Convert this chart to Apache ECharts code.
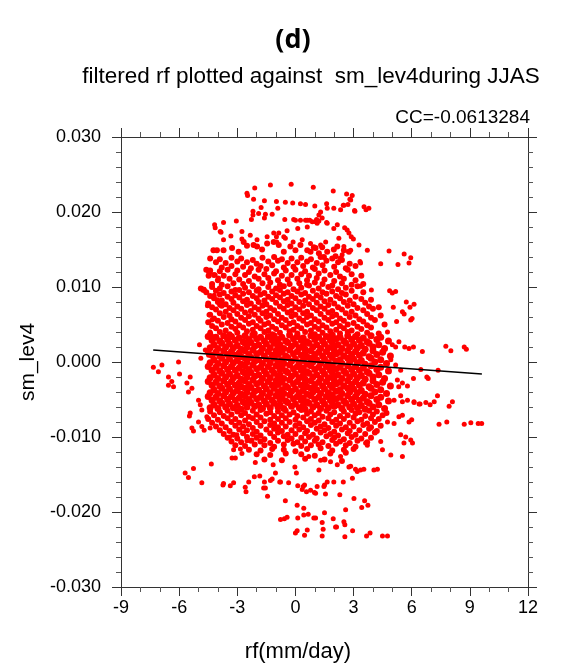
<!DOCTYPE html>
<html><head><meta charset="utf-8">
<script src="https://cdn.jsdelivr.net/npm/echarts@6/dist/echarts.min.js"></script>
<style>html,body{margin:0;padding:0;background:#fff}#c{width:562px;height:667px}</style>
</head><body><div id="c"></div>
<script>
// regression line end points (rf, sm_lev4)
const fitRf = [-7.34, 9.62];
const fitSm = [0.0016, -0.0016];

// sparse points above the cloud
const topPoints = [[-1.29,0.0236],[-0.22,0.0237],[0.92,0.0233],[1.95,0.0228],[-2.10,0.0232],[-2.50,0.0225],[-2.47,0.0222],[2.64,0.0224],[2.93,0.0222],[2.85,0.0216],[-2.16,0.0217],[-1.60,0.0215],[-0.98,0.0214],[-0.52,0.0213],[-0.14,0.0212],[0.26,0.0211],[0.52,0.0210],[1.00,0.0208],[1.61,0.0211],[1.64,0.0205],[1.98,0.0205],[2.47,0.0209],[2.71,0.0210],[3.07,0.0201],[3.54,0.0207],[3.79,0.0205],[3.64,0.0203],[-1.77,0.0206],[-2.19,0.0201],[-1.90,0.0198],[-1.55,0.0197],[-1.20,0.0197],[-0.91,0.0205],[-2.27,0.0190],[-2.19,0.0196],[-1.60,0.0192],[-0.55,0.0190],[-0.09,0.0190],[0.00,0.0189],[0.26,0.0189],[0.52,0.0189],[0.74,0.0189],[1.04,0.0187],[1.21,0.0188],[1.38,0.0192],[1.64,0.0185],[2.16,0.0183],[2.54,0.0179],[2.67,0.0176],[2.76,0.0172],[2.88,0.0167],[2.99,0.0164],[-4.17,0.0183],[-4.14,0.0179],[-3.71,0.0186],[-3.05,0.0188],[-3.84,0.0173],[-3.33,0.0168],[-2.76,0.0164],[-0.86,0.0172],[-0.98,0.0167],[-0.43,0.0175],[0.12,0.0178],[0.61,0.0180],[-0.52,0.0165],[2.33,0.0203],[2.50,0.0209],[2.81,0.0217],[3.05,0.0202],[1.30,0.0200],[1.21,0.0196],[0.61,0.0189],[0.87,0.0187],[1.09,0.0190],[1.12,0.0185],[1.61,0.0186],[-3.88,0.0174],[-3.71,0.0163],[-2.76,0.0174],[-2.33,0.0169],[-1.98,0.0163],[-1.46,0.0167],[-1.12,0.0172],[-0.96,0.0160],[-0.60,0.0167],[-0.12,0.0160],[0.35,0.0163],[0.78,0.0158],[0.98,0.0152],[1.30,0.0156],[1.56,0.0160],[1.98,0.0178],[2.24,0.0165],[2.85,0.0149],[3.28,0.0156],[2.50,0.0154]];

// band just above the dense cloud
const upperBand = [[-3.71,0.0149],[-3.27,0.0152],[-2.93,0.0147],[-2.67,0.0160],[-2.50,0.0155],[-2.16,0.0156],[-1.98,0.0154],[-1.72,0.0150],[-1.46,0.0158],[-1.12,0.0160],[-0.86,0.0156],[-0.60,0.0147],[-0.26,0.0154],[0.00,0.0149],[0.26,0.0156],[0.61,0.0149],[0.95,0.0153],[1.21,0.0145],[1.47,0.0140],[1.64,0.0147],[0.78,0.0147],[1.04,0.0152],[1.38,0.0153],[1.98,0.0150],[2.16,0.0154],[2.50,0.0149],[2.76,0.0147],[2.07,0.0141],[2.33,0.0138],[-4.23,0.0149],[-4.05,0.0149],[-4.60,0.0123],[-4.43,0.0120],[-4.48,0.0115],[-4.88,0.0098],[-4.74,0.0096],
[-4.4,0.0138],[-3.9,0.0137],[-3.3,0.0139],[-2.8,0.0138],[-2.2,0.0136],[-1.7,0.0139],[-1.1,0.0140],[-0.7,0.0137],[-0.2,0.0138],[0.3,0.0139],[0.8,0.0137],[1.3,0.0140],[1.9,0.0138],[2.4,0.0136],
[-4.1,0.0133],[-3.6,0.0132],[-3.0,0.0134],[-2.5,0.0133],[-2.0,0.0131],[-1.4,0.0134],[-0.9,0.0135],[-0.4,0.0132],[0.1,0.0133],[0.6,0.0134],[1.1,0.0132],[1.6,0.0135],[2.2,0.0133],[2.8,0.0131],
[-3.8,0.0126],[-3.3,0.0128],[-2.7,0.0127],[-2.3,0.0125],[-1.8,0.0128],[-1.2,0.0129],[-0.6,0.0126],[-0.1,0.0127],[0.4,0.0128],[0.9,0.0126],[1.4,0.0129],[2.0,0.0127],[2.6,0.0125],[3.1,0.0128],
[-4.4,0.0122],[-3.9,0.0121],[-3.5,0.0123],[-3.0,0.0122],[-2.4,0.0120],[-1.9,0.0123],[-1.5,0.0124],[-1.0,0.0121],[-0.5,0.0122],[0.0,0.0123],[0.5,0.0121],[1.0,0.0124],[1.5,0.0122],[2.1,0.0120],[2.7,0.0123],
[-4.2,0.0116],[-3.7,0.0115],[-3.1,0.0117],[-2.6,0.0116],[-2.1,0.0114],[-1.6,0.0117],[-1.1,0.0118],[-0.7,0.0115],[-0.2,0.0116],[0.3,0.0117],[0.7,0.0115],[1.2,0.0118],[1.8,0.0116],[2.3,0.0114],[2.9,0.0117],[3.4,0.0115],
[-4.0,0.0109],[-3.4,0.0111],[-2.9,0.0110],[-2.4,0.0108],[-1.9,0.0111],[-1.4,0.0112],[-0.9,0.0109],[-0.4,0.0110],[0.1,0.0111],[0.6,0.0109],[1.1,0.0112],[1.5,0.0110],[2.0,0.0108],[2.5,0.0111],[3.1,0.0109],
[-4.3,0.0104],[-3.8,0.0103],[-3.2,0.0105],[-2.7,0.0104],[-2.2,0.0102],[-1.7,0.0105],[-1.3,0.0106],[-0.8,0.0103],[-0.3,0.0104],[0.2,0.0105],[0.6,0.0103],[1.0,0.0106],[1.4,0.0104],[1.9,0.0102],[2.4,0.0105],[2.9,0.0103],[3.5,0.0104]];

// upper half of the dense cloud
const upperCloud = [
[-4.3,0.0100],[-3.9,0.0098],[-3.5,0.0101],[-3.1,0.0096],[-2.6,0.0099],[-2.2,0.0101],[-1.9,0.0097],[-1.4,0.0100],[-1.0,0.0098],[-0.6,0.0101],[-0.1,0.0097],[0.3,0.0099],[0.7,0.0102],[1.2,0.0098],[1.7,0.0100],[2.2,0.0097],[2.6,0.0099],[3.2,0.0101],
[-4.6,0.0093],[-4.1,0.0095],[-3.7,0.0092],[-3.3,0.0094],[-2.9,0.0096],[-2.4,0.0093],[-2.0,0.0095],[-1.6,0.0092],[-1.2,0.0094],[-0.8,0.0096],[-0.4,0.0093],[0.1,0.0094],[0.5,0.0092],[0.9,0.0095],[1.4,0.0093],[1.9,0.0094],[2.4,0.0092],[2.9,0.0095],[3.5,0.0093],
[-4.4,0.0088],[-3.9,0.0090],[-3.5,0.0087],[-3.1,0.0089],[-2.7,0.0091],[-2.2,0.0088],[-1.8,0.0090],[-1.4,0.0087],[-1.0,0.0089],[-0.6,0.0091],[-0.2,0.0088],[0.3,0.0090],[0.7,0.0087],[1.1,0.0089],[1.6,0.0091],[2.1,0.0088],[2.6,0.0090],[3.1,0.0087],
[-4.2,0.0085],[-3.8,0.0082],[-3.3,0.0084],[-2.9,0.0086],[-2.5,0.0083],[-2.0,0.0085],[-1.6,0.0082],[-1.2,0.0084],[-0.8,0.0086],[-0.4,0.0083],[0.0,0.0085],[0.5,0.0082],[0.9,0.0084],[1.3,0.0086],[1.8,0.0083],[2.3,0.0085],[2.8,0.0082],[3.4,0.0084],[3.9,0.0083],
[-4.5,0.0078],[-4.0,0.0080],[-3.6,0.0077],[-3.2,0.0079],[-2.7,0.0081],[-2.3,0.0078],[-1.9,0.0080],[-1.5,0.0077],[-1.0,0.0079],[-0.6,0.0081],[-0.2,0.0078],[0.2,0.0080],[0.7,0.0077],[1.1,0.0079],[1.5,0.0081],[2.0,0.0078],[2.5,0.0080],[3.0,0.0077],[3.6,0.0079],
[-4.3,0.0073],[-3.8,0.0075],[-3.4,0.0072],[-3.0,0.0074],[-2.5,0.0076],[-2.1,0.0073],[-1.7,0.0075],[-1.3,0.0072],[-0.8,0.0074],[-0.4,0.0076],[0.0,0.0073],[0.4,0.0075],[0.9,0.0072],[1.3,0.0074],[1.7,0.0076],[2.2,0.0073],[2.7,0.0075],[3.2,0.0072],[3.8,0.0074],[4.3,0.0073],
[-4.1,0.0070],[-3.6,0.0067],[-3.2,0.0069],[-2.8,0.0071],[-2.3,0.0068],[-1.9,0.0070],[-1.5,0.0067],[-1.1,0.0069],[-0.6,0.0071],[-0.2,0.0068],[0.2,0.0070],[0.6,0.0067],[1.1,0.0069],[1.5,0.0071],[1.9,0.0068],[2.4,0.0070],[2.9,0.0067],[3.5,0.0069],[4.0,0.0071],
[-4.4,0.0063],[-3.9,0.0065],[-3.4,0.0062],[-3.0,0.0064],[-2.6,0.0066],[-2.1,0.0063],[-1.7,0.0065],[-1.3,0.0062],[-0.9,0.0064],[-0.4,0.0066],[0.0,0.0063],[0.4,0.0065],[0.8,0.0062],[1.3,0.0064],[1.7,0.0066],[2.1,0.0063],[2.6,0.0065],[3.1,0.0062],[3.7,0.0064],[4.4,0.0062],
[-4.2,0.0058],[-3.7,0.0060],[-3.3,0.0057],[-2.8,0.0059],[-2.4,0.0061],[-1.9,0.0058],[-1.5,0.0060],[-1.1,0.0057],[-0.7,0.0059],[-0.2,0.0061],[0.2,0.0058],[0.6,0.0060],[1.0,0.0057],[1.5,0.0059],[1.9,0.0061],[2.3,0.0058],[2.8,0.0060],[3.3,0.0057],[3.9,0.0059],
[-4.5,0.0053],[-4.0,0.0055],[-3.5,0.0052],[-3.1,0.0054],[-2.6,0.0056],[-2.2,0.0053],[-1.8,0.0055],[-1.4,0.0052],[-0.9,0.0054],[-0.5,0.0056],[-0.1,0.0053],[0.4,0.0055],[0.8,0.0052],[1.2,0.0054],[1.7,0.0056],[2.1,0.0053],[2.5,0.0055],[3.0,0.0052],[3.5,0.0054],[4.1,0.0056],
[-4.3,0.0048],[-3.8,0.0050],[-3.3,0.0047],[-2.9,0.0049],[-2.4,0.0051],[-2.0,0.0048],[-1.6,0.0050],[-1.2,0.0047],[-0.7,0.0049],[-0.3,0.0051],[0.1,0.0048],[0.6,0.0050],[1.0,0.0047],[1.4,0.0049],[1.9,0.0051],[2.3,0.0048],[2.7,0.0050],[3.2,0.0047],[3.7,0.0049],[4.6,0.0050],
[-4.1,0.0045],[-3.6,0.0042],[-3.1,0.0044],[-2.7,0.0046],[-2.2,0.0043],[-1.8,0.0045],[-1.4,0.0042],[-1.0,0.0044],[-0.5,0.0046],[-0.1,0.0043],[0.3,0.0045],[0.8,0.0042],[1.2,0.0044],[1.6,0.0046],[2.1,0.0043],[2.5,0.0045],[2.9,0.0042],[3.4,0.0044],[3.9,0.0046],
[-4.4,0.0038],[-3.9,0.0040],[-3.4,0.0037],[-3.0,0.0039],[-2.5,0.0041],[-2.1,0.0038],[-1.6,0.0040],[-1.2,0.0037],[-0.8,0.0039],[-0.3,0.0041],[0.1,0.0038],[0.5,0.0040],[1.0,0.0037],[1.4,0.0039],[1.8,0.0041],[2.3,0.0038],[2.7,0.0040],[3.2,0.0037],[3.7,0.0039],[4.3,0.0038]];

// densest part of the cloud
const coreCloud = [
[-4.5,0.0034],[-4.1,0.0033],[-3.7,0.0035],[-3.3,0.0034],[-2.9,0.0032],[-2.6,0.0035],[-2.2,0.0036],[-1.8,0.0033],[-1.4,0.0034],[-1.1,0.0035],[-0.7,0.0033],[-0.3,0.0036],[0.1,0.0034],[0.4,0.0032],[0.8,0.0035],[1.2,0.0033],[1.6,0.0034],[1.9,0.0036],[2.3,0.0033],[2.7,0.0035],[3.1,0.0034],[3.5,0.0032],[3.9,0.0035],[4.4,0.0033],
[-4.3,0.0029],[-3.9,0.0028],[-3.5,0.0030],[-3.1,0.0029],[-2.7,0.0027],[-2.4,0.0030],[-2.0,0.0031],[-1.6,0.0028],[-1.2,0.0029],[-0.9,0.0030],[-0.5,0.0028],[-0.1,0.0031],[0.3,0.0029],[0.6,0.0027],[1.0,0.0030],[1.4,0.0028],[1.8,0.0029],[2.1,0.0031],[2.5,0.0028],[2.9,0.0030],[3.3,0.0029],[3.7,0.0027],[4.2,0.0030],[4.8,0.0028],
[-4.2,0.0023],[-3.8,0.0025],[-3.4,0.0024],[-3.0,0.0022],[-2.6,0.0025],[-2.3,0.0026],[-1.9,0.0023],[-1.5,0.0024],[-1.1,0.0025],[-0.8,0.0023],[-0.4,0.0026],[0.0,0.0024],[0.4,0.0022],[0.7,0.0025],[1.1,0.0023],[1.5,0.0024],[1.9,0.0026],[2.2,0.0023],[2.6,0.0025],[3.0,0.0024],[3.4,0.0022],[3.8,0.0025],[4.3,0.0023],
[-4.4,0.0019],[-4.0,0.0018],[-3.6,0.0020],[-3.2,0.0019],[-2.8,0.0017],[-2.5,0.0020],[-2.1,0.0021],[-1.7,0.0018],[-1.3,0.0019],[-0.9,0.0020],[-0.6,0.0018],[-0.2,0.0021],[0.2,0.0019],[0.5,0.0017],[0.9,0.0020],[1.3,0.0018],[1.7,0.0019],[2.0,0.0021],[2.4,0.0018],[2.8,0.0020],[3.2,0.0019],[3.6,0.0017],[4.0,0.0020],[4.6,0.0018],
[-4.5,0.0014],[-4.1,0.0013],[-3.7,0.0015],[-3.3,0.0014],[-2.9,0.0012],[-2.6,0.0015],[-2.2,0.0016],[-1.8,0.0013],[-1.4,0.0014],[-1.0,0.0015],[-0.7,0.0013],[-0.3,0.0016],[0.1,0.0014],[0.5,0.0012],[0.8,0.0015],[1.2,0.0013],[1.6,0.0014],[2.0,0.0016],[2.3,0.0013],[2.7,0.0015],[3.1,0.0014],[3.5,0.0012],[4.0,0.0015],[4.5,0.0013],
[-4.3,0.0009],[-3.9,0.0008],[-3.5,0.0010],[-3.1,0.0009],[-2.8,0.0007],[-2.4,0.0010],[-2.0,0.0011],[-1.6,0.0008],[-1.2,0.0009],[-0.9,0.0010],[-0.5,0.0008],[-0.1,0.0011],[0.3,0.0009],[0.6,0.0007],[1.0,0.0010],[1.4,0.0008],[1.8,0.0009],[2.1,0.0011],[2.5,0.0008],[2.9,0.0010],[3.3,0.0009],[3.8,0.0007],[4.2,0.0010],[4.9,0.0008],
[-4.2,0.0003],[-3.8,0.0005],[-3.4,0.0004],[-3.0,0.0002],[-2.6,0.0005],[-2.3,0.0006],[-1.9,0.0003],[-1.5,0.0004],[-1.1,0.0005],[-0.7,0.0003],[-0.4,0.0006],[0.0,0.0004],[0.4,0.0002],[0.8,0.0005],[1.1,0.0003],[1.5,0.0004],[1.9,0.0006],[2.3,0.0003],[2.7,0.0005],[3.0,0.0004],[3.4,0.0002],[3.9,0.0005],[4.4,0.0003],
[-4.4,-0.0001],[-4.0,-0.0002],[-3.6,0.0000],[-3.2,-0.0001],[-2.8,-0.0003],[-2.5,0.0000],[-2.1,0.0001],[-1.7,-0.0002],[-1.3,-0.0001],[-0.9,0.0000],[-0.6,-0.0002],[-0.2,0.0001],[0.2,-0.0001],[0.6,-0.0003],[0.9,0.0000],[1.3,-0.0002],[1.7,-0.0001],[2.1,0.0001],[2.4,-0.0002],[2.8,0.0000],[3.2,-0.0001],[3.6,-0.0003],[4.1,0.0000],[4.7,-0.0002],
[-4.5,-0.0006],[-4.1,-0.0007],[-3.7,-0.0005],[-3.3,-0.0006],[-2.9,-0.0008],[-2.6,-0.0005],[-2.2,-0.0004],[-1.8,-0.0007],[-1.4,-0.0006],[-1.0,-0.0005],[-0.7,-0.0007],[-0.3,-0.0004],[0.1,-0.0006],[0.4,-0.0008],[0.8,-0.0005],[1.2,-0.0007],[1.6,-0.0006],[1.9,-0.0004],[2.3,-0.0007],[2.7,-0.0005],[3.1,-0.0006],[3.5,-0.0008],[3.9,-0.0005],[4.4,-0.0007],
[-4.3,-0.0011],[-3.9,-0.0012],[-3.5,-0.0010],[-3.1,-0.0011],[-2.7,-0.0013],[-2.4,-0.0010],[-2.0,-0.0009],[-1.6,-0.0012],[-1.2,-0.0011],[-0.8,-0.0010],[-0.5,-0.0012],[-0.1,-0.0009],[0.3,-0.0011],[0.6,-0.0013],[1.0,-0.0010],[1.4,-0.0012],[1.8,-0.0011],[2.1,-0.0009],[2.5,-0.0012],[2.9,-0.0010],[3.3,-0.0011],[3.7,-0.0013],[4.2,-0.0010],[4.8,-0.0012],
[-4.2,-0.0017],[-3.8,-0.0015],[-3.4,-0.0016],[-3.0,-0.0018],[-2.6,-0.0015],[-2.3,-0.0014],[-1.9,-0.0017],[-1.5,-0.0016],[-1.1,-0.0015],[-0.8,-0.0017],[-0.4,-0.0014],[0.0,-0.0016],[0.4,-0.0018],[0.7,-0.0015],[1.1,-0.0017],[1.5,-0.0016],[1.9,-0.0014],[2.2,-0.0017],[2.6,-0.0015],[3.0,-0.0016],[3.4,-0.0018],[3.8,-0.0015],[4.3,-0.0017],
[-4.4,-0.0021],[-4.0,-0.0022],[-3.6,-0.0020],[-3.2,-0.0021],[-2.8,-0.0023],[-2.5,-0.0020],[-2.1,-0.0019],[-1.7,-0.0022],[-1.3,-0.0021],[-0.9,-0.0020],[-0.6,-0.0022],[-0.2,-0.0019],[0.2,-0.0021],[0.5,-0.0023],[0.9,-0.0020],[1.3,-0.0022],[1.7,-0.0021],[2.0,-0.0019],[2.4,-0.0022],[2.8,-0.0020],[3.2,-0.0021],[3.6,-0.0023],[4.0,-0.0020],[4.6,-0.0022],
[-4.5,-0.0026],[-4.1,-0.0027],[-3.7,-0.0025],[-3.3,-0.0026],[-2.9,-0.0028],[-2.6,-0.0025],[-2.2,-0.0024],[-1.8,-0.0027],[-1.4,-0.0026],[-1.0,-0.0025],[-0.7,-0.0027],[-0.3,-0.0024],[0.1,-0.0026],[0.5,-0.0028],[0.8,-0.0025],[1.2,-0.0027],[1.6,-0.0026],[2.0,-0.0024],[2.3,-0.0027],[2.7,-0.0025],[3.1,-0.0026],[3.5,-0.0028],[4.0,-0.0025],[4.5,-0.0027],
[-4.3,-0.0031],[-3.9,-0.0032],[-3.5,-0.0030],[-3.1,-0.0031],[-2.8,-0.0033],[-2.4,-0.0030],[-2.0,-0.0029],[-1.6,-0.0032],[-1.2,-0.0031],[-0.9,-0.0030],[-0.5,-0.0032],[-0.1,-0.0029],[0.3,-0.0031],[0.6,-0.0033],[1.0,-0.0030],[1.4,-0.0032],[1.8,-0.0031],[2.1,-0.0029],[2.5,-0.0032],[2.9,-0.0030],[3.3,-0.0031],[3.8,-0.0033],[4.2,-0.0030],[4.9,-0.0032],
[-4.2,-0.0037],[-3.8,-0.0035],[-3.4,-0.0036],[-3.0,-0.0038],[-2.6,-0.0035],[-2.3,-0.0034],[-1.9,-0.0037],[-1.5,-0.0036],[-1.1,-0.0035],[-0.7,-0.0037],[-0.4,-0.0034],[0.0,-0.0036],[0.4,-0.0038],[0.8,-0.0035],[1.1,-0.0037],[1.5,-0.0036],[1.9,-0.0034],[2.3,-0.0037],[2.7,-0.0035],[3.0,-0.0036],[3.4,-0.0038],[3.9,-0.0035],[4.4,-0.0037],
[-4.4,-0.0041],[-4.0,-0.0042],[-3.6,-0.0040],[-3.2,-0.0041],[-2.8,-0.0043],[-2.5,-0.0040],[-2.1,-0.0039],[-1.7,-0.0042],[-1.3,-0.0041],[-0.9,-0.0040],[-0.6,-0.0042],[-0.2,-0.0039],[0.2,-0.0041],[0.6,-0.0043],[0.9,-0.0040],[1.3,-0.0042],[1.7,-0.0041],[2.1,-0.0039],[2.4,-0.0042],[2.8,-0.0040],[3.2,-0.0041],[3.6,-0.0043],[4.1,-0.0040],[4.7,-0.0042],
[-4.5,-0.0046],[-4.1,-0.0047],[-3.7,-0.0045],[-3.3,-0.0046],[-2.9,-0.0048],[-2.6,-0.0045],[-2.2,-0.0044],[-1.8,-0.0047],[-1.4,-0.0046],[-1.0,-0.0045],[-0.7,-0.0047],[-0.3,-0.0044],[0.1,-0.0046],[0.4,-0.0048],[0.8,-0.0045],[1.2,-0.0047],[1.6,-0.0046],[1.9,-0.0044],[2.3,-0.0047],[2.7,-0.0045],[3.1,-0.0046],[3.5,-0.0048],[3.9,-0.0045],[4.4,-0.0047],
[-4.3,-0.0051],[-3.9,-0.0052],[-3.5,-0.0050],[-3.1,-0.0051],[-2.7,-0.0053],[-2.4,-0.0050],[-2.0,-0.0049],[-1.6,-0.0052],[-1.2,-0.0051],[-0.8,-0.0050],[-0.5,-0.0052],[-0.1,-0.0049],[0.3,-0.0051],[0.6,-0.0053],[1.0,-0.0050],[1.4,-0.0052],[1.8,-0.0051],[2.1,-0.0049],[2.5,-0.0052],[2.9,-0.0050],[3.3,-0.0051],[3.7,-0.0053],[4.2,-0.0050],[4.8,-0.0052],
[-4.2,-0.0057],[-3.8,-0.0055],[-3.4,-0.0056],[-3.0,-0.0058],[-2.6,-0.0055],[-2.3,-0.0054],[-1.9,-0.0057],[-1.5,-0.0056],[-1.1,-0.0055],[-0.8,-0.0057],[-0.4,-0.0054],[0.0,-0.0056],[0.4,-0.0058],[0.7,-0.0055],[1.1,-0.0057],[1.5,-0.0056],[1.9,-0.0054],[2.2,-0.0057],[2.6,-0.0055],[3.0,-0.0056],[3.4,-0.0058],[3.8,-0.0055],[4.3,-0.0057],
[-4.4,-0.0061],[-4.0,-0.0062],[-3.6,-0.0060],[-3.2,-0.0061],[-2.8,-0.0063],[-2.5,-0.0060],[-2.1,-0.0059],[-1.7,-0.0062],[-1.3,-0.0061],[-0.9,-0.0060],[-0.6,-0.0062],[-0.2,-0.0059],[0.2,-0.0061],[0.5,-0.0063],[0.9,-0.0060],[1.3,-0.0062],[1.7,-0.0061],[2.0,-0.0059],[2.4,-0.0062],[2.8,-0.0060],[3.2,-0.0061],[3.6,-0.0063],[4.0,-0.0060],[4.6,-0.0062]];

// lower half of the cloud
const lowerCloud = [
[-4.4,-0.0066],[-3.9,-0.0067],[-3.5,-0.0065],[-3.0,-0.0066],[-2.6,-0.0068],[-2.2,-0.0065],[-1.8,-0.0064],[-1.3,-0.0067],[-0.9,-0.0066],[-0.5,-0.0065],[-0.1,-0.0067],[0.3,-0.0064],[0.8,-0.0066],[1.2,-0.0068],[1.6,-0.0065],[2.0,-0.0067],[2.5,-0.0066],[2.9,-0.0064],[3.3,-0.0067],[3.8,-0.0065],[4.2,-0.0066],[4.7,-0.0068],
[-4.2,-0.0071],[-3.7,-0.0072],[-3.3,-0.0070],[-2.8,-0.0071],[-2.4,-0.0073],[-2.0,-0.0070],[-1.5,-0.0069],[-1.1,-0.0072],[-0.7,-0.0071],[-0.3,-0.0070],[0.1,-0.0072],[0.6,-0.0069],[1.0,-0.0071],[1.4,-0.0073],[1.8,-0.0070],[2.3,-0.0072],[2.7,-0.0071],[3.1,-0.0069],[3.6,-0.0072],[4.0,-0.0070],[4.5,-0.0071],
[-4.5,-0.0076],[-4.0,-0.0077],[-3.5,-0.0075],[-3.1,-0.0076],[-2.6,-0.0078],[-2.2,-0.0075],[-1.8,-0.0074],[-1.3,-0.0077],[-0.9,-0.0076],[-0.5,-0.0075],[0.0,-0.0077],[0.4,-0.0074],[0.8,-0.0076],[1.2,-0.0078],[1.7,-0.0075],[2.1,-0.0077],[2.5,-0.0076],[3.0,-0.0074],[3.4,-0.0077],[3.9,-0.0075],[4.3,-0.0076],
[-4.3,-0.0081],[-3.8,-0.0082],[-3.3,-0.0080],[-2.9,-0.0081],[-2.4,-0.0083],[-2.0,-0.0080],[-1.6,-0.0079],[-1.1,-0.0082],[-0.7,-0.0081],[-0.3,-0.0080],[0.2,-0.0082],[0.6,-0.0079],[1.0,-0.0081],[1.5,-0.0083],[1.9,-0.0080],[2.3,-0.0082],[2.8,-0.0081],[3.2,-0.0079],[3.7,-0.0082],[4.1,-0.0080],
[-4.1,-0.0086],[-3.6,-0.0087],[-3.1,-0.0085],[-2.7,-0.0086],[-2.2,-0.0088],[-1.8,-0.0085],[-1.3,-0.0084],[-0.9,-0.0087],[-0.5,-0.0086],[0.0,-0.0085],[0.4,-0.0087],[0.8,-0.0084],[1.3,-0.0086],[1.7,-0.0088],[2.1,-0.0085],[2.6,-0.0087],[3.0,-0.0086],[3.5,-0.0084],[3.9,-0.0087],[4.4,-0.0085],
[-3.9,-0.0091],[-3.4,-0.0092],[-2.9,-0.0090],[-2.5,-0.0091],[-2.0,-0.0093],[-1.5,-0.0090],[-1.1,-0.0089],[-0.7,-0.0092],[-0.2,-0.0091],[0.2,-0.0090],[0.6,-0.0092],[1.1,-0.0089],[1.5,-0.0091],[2.0,-0.0093],[2.4,-0.0090],[2.8,-0.0092],[3.3,-0.0091],[3.8,-0.0089],[4.2,-0.0092],
[-3.7,-0.0096],[-3.2,-0.0097],[-2.7,-0.0095],[-2.2,-0.0096],[-1.8,-0.0098],[-1.3,-0.0095],[-0.9,-0.0094],[-0.4,-0.0097],[0.0,-0.0096],[0.5,-0.0095],[0.9,-0.0097],[1.3,-0.0094],[1.8,-0.0096],[2.2,-0.0098],[2.7,-0.0095],[3.1,-0.0097],[3.6,-0.0096],[4.1,-0.0094],
[-3.5,-0.0101],[-3.0,-0.0102],[-2.5,-0.0100],[-2.0,-0.0101],[-1.6,-0.0103],[-1.1,-0.0100],[-0.6,-0.0099],[-0.2,-0.0102],[0.3,-0.0101],[0.7,-0.0100],[1.1,-0.0102],[1.6,-0.0099],[2.0,-0.0101],[2.5,-0.0103],[2.9,-0.0100],[3.4,-0.0102],[3.9,-0.0101],
[-3.3,-0.0106],[-2.8,-0.0107],[-2.3,-0.0105],[-1.8,-0.0106],[-1.3,-0.0108],[-0.9,-0.0105],[-0.4,-0.0104],[0.1,-0.0107],[0.5,-0.0106],[1.0,-0.0105],[1.4,-0.0107],[1.9,-0.0104],[2.3,-0.0106],[2.8,-0.0108],[3.2,-0.0105],[3.7,-0.0107],
[-3.1,-0.0111],[-2.6,-0.0112],[-2.1,-0.0110],[-1.6,-0.0111],[-1.1,-0.0113],[-0.6,-0.0110],[-0.1,-0.0109],[0.3,-0.0112],[0.8,-0.0111],[1.2,-0.0110],[1.7,-0.0112],[2.1,-0.0109],[2.6,-0.0111],[3.1,-0.0113],
[-2.4,-0.0117],[-1.8,-0.0118],[-1.2,-0.0116],[-0.6,-0.0117],[0.0,-0.0119],[0.6,-0.0116],[1.3,-0.0115],[1.9,-0.0118],[2.5,-0.0117],[3.0,-0.0116],
[-2.0,-0.0123],[-1.3,-0.0124],[-0.5,-0.0122],[0.3,-0.0123],[1.0,-0.0125],[1.8,-0.0122],[2.6,-0.0121],
[-1.6,-0.0130],[-0.7,-0.0131],[0.5,-0.0129],[1.5,-0.0130],[2.4,-0.0132]];

// sparse points below the cloud
const bottomPoints = [[-4.83,-0.0161],[-3.74,-0.0164],[-3.71,-0.0162],[-3.36,-0.0165],[-3.19,-0.0161],[-2.59,-0.0167],[-2.55,-0.0173],[-2.41,-0.0160],[-1.64,-0.0168],[-1.44,-0.0179],[-0.52,-0.0185],[0.09,-0.0191],[0.43,-0.0195],[-0.77,-0.0210],[-0.57,-0.0209],[-0.43,-0.0207],[0.12,-0.0208],[0.43,-0.0204],[0.66,-0.0203],[0.95,-0.0208],[1.04,-0.0208],[0.00,-0.0228],[0.09,-0.0225],[0.47,-0.0231],[0.61,-0.0224],[1.38,-0.0214],[1.43,-0.0223],[1.38,-0.0232],[1.50,-0.0201],[1.95,-0.0209],[2.07,-0.0220],[2.12,-0.0220],[2.50,-0.0213],[2.55,-0.0217],[2.59,-0.0197],[2.55,-0.0233],[2.95,-0.0225],[3.02,-0.0182],[3.42,-0.0194],[3.57,-0.0185],[3.74,-0.0191],[3.67,-0.0232],[3.85,-0.0228],[4.49,-0.0232],[4.75,-0.0232],[2.29,-0.0177],[1.55,-0.0176],[0.98,-0.0174],[0.57,-0.0173],[0.35,-0.0170],[0.12,-0.0165],[0.47,-0.0164],[1.12,-0.0166],[1.50,-0.0164],[1.64,-0.0160],[1.98,-0.0160],[2.47,-0.0160],[-0.81,-0.0160],[-0.35,-0.0161],[-1.29,-0.0158],[0.40,-0.0166],[1.04,-0.0175],[2.94,-0.0155],[3.19,-0.0146],[3.36,-0.0144],[3.53,-0.0143],[2.76,-0.0140],[2.16,-0.0137],[-5.69,-0.0148],[-5.52,-0.0154],[-5.26,-0.0142],[-4.34,-0.0136],[-2.07,-0.0134],[-2.12,-0.0153],[-1.84,-0.0152],[-1.15,-0.0137],[-1.03,-0.0148],[-1.60,-0.0160],[-1.55,-0.0168],[-1.20,-0.0156],[-0.77,-0.0160],[-0.03,-0.0140],[0.05,-0.0148],[2.33,-0.0126],[2.85,-0.0139],[3.10,-0.0143],[1.81,-0.0133],[1.30,-0.0131],[1.21,-0.0144],[0.69,-0.0126],[-3.19,-0.0117],[-3.10,-0.0128],[-3.27,-0.0128],[-2.84,-0.0116],[-2.76,-0.0122],[-2.50,-0.0105],[-2.24,-0.0104],[-3.40,-0.0100],[-3.02,-0.0097],[0.78,-0.0171],[1.47,-0.0166],[4.05,-0.0144],[4.23,-0.0143]];

// sparse points left and right of the cloud
const sidePoints = [[-7.33,-0.0007],[-7.07,-0.0013],[-6.89,-0.0004],[-6.55,-0.0020],[-6.38,-0.0026],[-6.29,-0.0033],[-6.55,-0.0031],[-5.98,-0.0016],[-6.03,0.0000],[-5.43,-0.0020],[-5.60,-0.0028],[-5.52,-0.0040],[-5.34,-0.0035],[-5.00,-0.0051],[-4.91,-0.0057],[-4.83,-0.0064],[-5.43,-0.0068],[-5.47,-0.0072],[-5.34,-0.0088],[-5.26,-0.0092],[-4.83,-0.0086],[-4.71,-0.0091],[-4.40,-0.0088],[-5.00,-0.0080],[-4.57,-0.0073],[-4.88,0.0005],[-4.95,0.0023],[-4.65,0.0016],[-4.48,0.0009],[-4.83,0.0098],[-4.71,0.0097],[-4.54,0.0075],[-4.46,0.0063],[-4.31,0.0056],[-4.40,0.0040],[-4.26,0.0034],[-4.19,0.0089],[-4.02,0.0083],[-3.91,0.0076],[-4.14,0.0116],[-3.97,0.0112],[-4.48,0.0120],
[3.71,0.0149],[4.83,0.0148],[5.61,0.0144],[5.95,0.0139],[3.36,0.0132],[4.40,0.0131],[5.29,0.0130],[5.86,0.0132],[3.33,0.0134],[2.41,0.0143],[3.36,0.0101],[3.92,0.0096],[4.86,0.0095],[5.00,0.0092],[5.17,0.0094],[5.72,0.0080],[6.12,0.0077],[5.91,0.0073],[5.52,0.0067],[5.61,0.0064],[5.05,0.0073],[5.22,0.0054],[5.95,0.0056],[6.02,0.0058],[5.64,0.0020],[5.86,0.0018],[6.09,0.0020],[6.55,0.0014],[7.76,0.0021],[8.02,0.0015],[8.71,0.0020],[8.82,0.0017],[7.36,-0.0011],[6.47,-0.0010],[6.78,-0.0020],[6.85,-0.0022],[6.09,-0.0022],[7.33,-0.0045],[7.16,-0.0053],[6.95,-0.0057],[6.73,-0.0054],[6.43,-0.0056],[6.12,-0.0053],[8.10,-0.0053],[7.93,-0.0059],[7.41,-0.0083],[7.81,-0.0080],[8.71,-0.0083],[9.05,-0.0081],[9.43,-0.0082],[9.61,-0.0082],[5.86,-0.0080],[6.00,-0.0077],[5.52,-0.0071],[5.34,-0.0073],[4.75,-0.0080],[5.09,-0.0082],[5.43,-0.0097],[5.69,-0.0100],[5.95,-0.0104],[6.04,-0.0108],[5.60,-0.0108],[4.92,-0.0124],[5.52,-0.0126],[3.62,-0.0108],[3.71,-0.0111],[4.40,-0.0106],[4.49,-0.0117],[5.33,-0.0033],[5.78,-0.0032],[5.43,-0.0045],[5.78,-0.0051],[6.12,-0.0054],[6.38,-0.0056],[4.75,0.0040],[5.00,0.0023],[5.17,0.0020],[5.34,0.0027],[4.92,0.0003],[5.17,-0.0004],[5.43,-0.0011],[5.26,-0.0024],[5.52,-0.0028],[5.09,-0.0051],[5.52,-0.0053]];

const cloudPoints = [].concat(upperBand, upperCloud, lowerCloud);
const sparsePoints = [].concat(topPoints, bottomPoints, sidePoints);
const fitLine = fitRf.map((x, i) => [x, fitSm[i]]);

const chart = echarts.init(document.getElementById('c'), null, {renderer: 'canvas'});
const FONT = '"Liberation Sans", Arial, sans-serif';
const axisLine = {show: true, onZero: false, lineStyle: {color: '#333', width: 1}};
const xBase = {type: 'value', min: -9, max: 12, interval: 3,
  axisLine: axisLine, splitLine: {show: false},
  axisTick: {show: true, inside: false, length: 9, lineStyle: {color: '#333'}},
  minorTick: {show: true, splitNumber: 3, length: 5, lineStyle: {color: '#555'}}};
const yBase = {type: 'value', min: -0.03, max: 0.03, interval: 0.01,
  axisLine: axisLine, splitLine: {show: false},
  axisTick: {show: true, inside: false, length: 9, lineStyle: {color: '#333'}},
  minorTick: {show: true, splitNumber: 5, length: 5, lineStyle: {color: '#555'}}};

chart.setOption({
  animation: false,
  backgroundColor: '#fff',
  grid: {left: 121, right: 34, top: 137, bottom: 80, containLabel: false},
  xAxis: [
    Object.assign({}, xBase, {position: 'bottom',
      axisLabel: {fontFamily: FONT, fontSize: 18, color: '#000', margin: 12}}),
    Object.assign({}, xBase, {position: 'top', axisLabel: {show: false}})
  ],
  yAxis: [
    Object.assign({}, yBase, {position: 'left', name: 'sm_lev4', nameLocation: 'middle', nameGap: 65,
      nameTextStyle: {fontFamily: FONT, fontSize: 21, color: '#000'},
      axisLabel: {fontFamily: FONT, fontSize: 18, color: '#000', margin: 20,
        formatter: v => v.toFixed(3)}}),
    Object.assign({}, yBase, {position: 'right', axisLabel: {show: false}})
  ],
  graphic: [
    {type: 'text', x: 293, y: 40, style: {text: '(d)', textAlign: 'center', textVerticalAlign: 'middle',
      font: 'bold 27px "Open Sans", "Liberation Sans", sans-serif', fill: '#000'}},
    {type: 'text', x: 311, y: 77, style: {text: 'filtered rf plotted against  sm_lev4during JJAS', textAlign: 'center', textVerticalAlign: 'middle',
      font: '22.5px "Liberation Sans", Arial, sans-serif', fill: '#000'}},
    {type: 'text', x: 530, y: 118, style: {text: 'CC=-0.0613284', textAlign: 'right', textVerticalAlign: 'middle',
      font: '19px "Liberation Sans", Arial, sans-serif', fill: '#000'}},
    {type: 'text', x: 298, y: 652, style: {text: 'rf(mm/day)', textAlign: 'center', textVerticalAlign: 'middle',
      font: '22px "Liberation Sans", Arial, sans-serif', fill: '#000'}}
  ],
  series: [
    {type: 'scatter', xAxisIndex: 0, yAxisIndex: 0, data: coreCloud, symbol: 'circle', symbolSize: 7,
      itemStyle: {color: '#ff0000', opacity: 1}, silent: true, z: 2},
    {type: 'scatter', xAxisIndex: 0, yAxisIndex: 0, data: cloudPoints, symbol: 'circle', symbolSize: 6,
      itemStyle: {color: '#ff0000', opacity: 1}, silent: true, z: 2},
    {type: 'scatter', xAxisIndex: 0, yAxisIndex: 0, data: sparsePoints, symbol: 'circle', symbolSize: 5,
      itemStyle: {color: '#ff0000', opacity: 1}, silent: true, z: 2},
    {type: 'line', xAxisIndex: 0, yAxisIndex: 0, data: fitLine, symbol: 'none',
      lineStyle: {color: '#000', width: 1.5}, silent: true, z: 3}
  ]
});
</script>
</body></html>
